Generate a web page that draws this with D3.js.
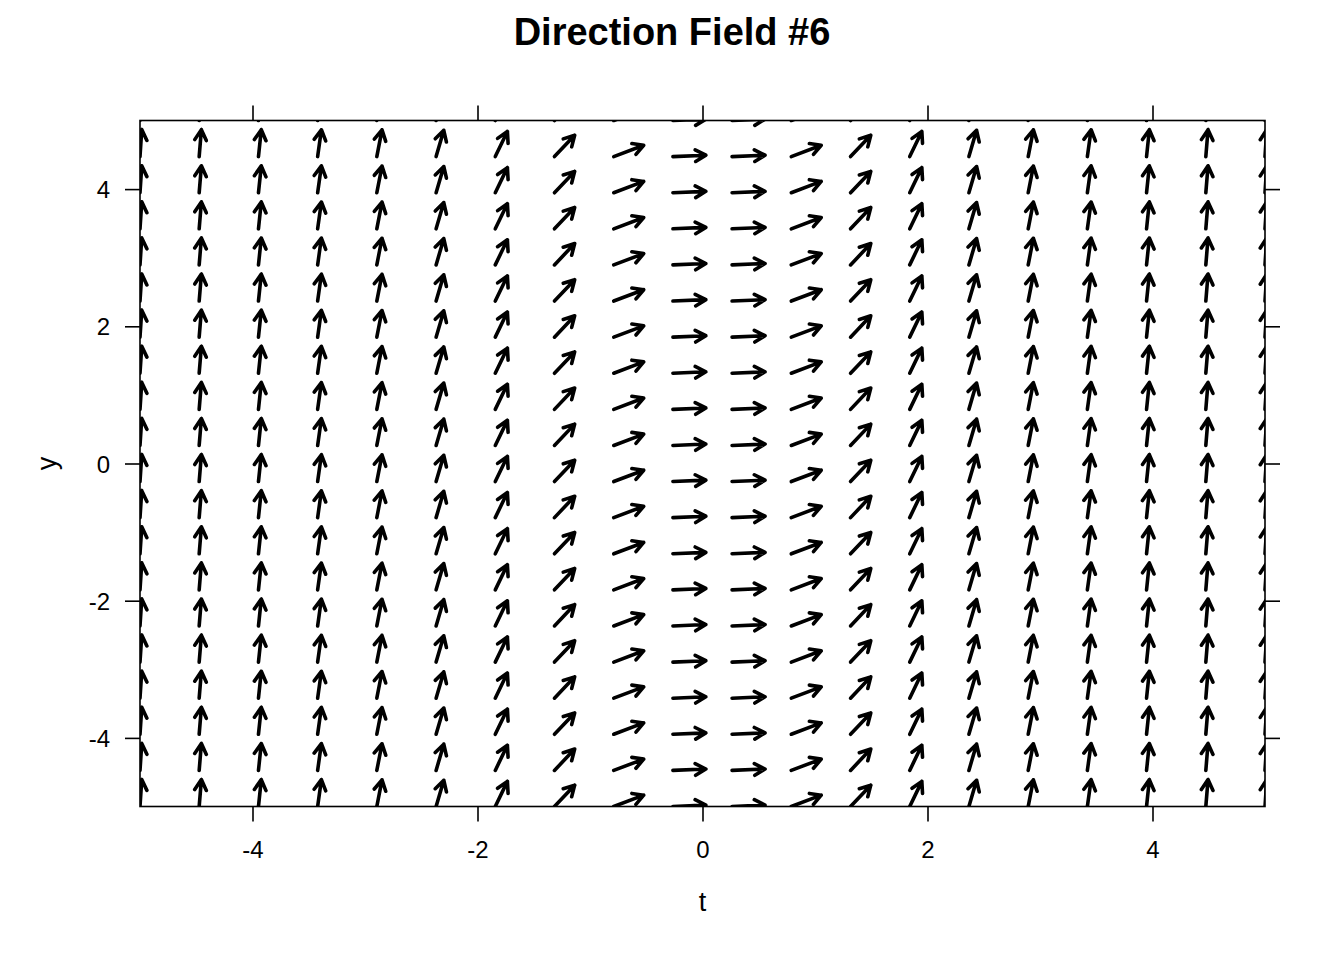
<!DOCTYPE html>
<html>
<head>
<meta charset="utf-8">
<script src="https://cdn.jsdelivr.net/npm/d3@7"></script>
<style>
  html, body { margin: 0; padding: 0; background: #fff; }
  svg { display: block; }
  text { font-family: "Liberation Sans", Arial, sans-serif; fill: #000; }
</style>
</head>
<body>
<svg id="chart" width="1344" height="960"></svg>
<script>
// ---- data ----
const title = "Direction Field #6";
const xLabel = "t";
const yLabel = "y";
const xDomain = [-5, 5];
const yDomain = [-5, 5];
const xTicks = [-4, -2, 0, 2, 4];
const yTicks = [-4, -2, 0, 2, 4];
// grid of arrow tails (t values of columns, y values of rows)
const tGrid = [-5, -4.474, -3.947, -3.421, -2.895, -2.368, -1.842, -1.316, -0.789, -0.263,
               0.263, 0.789, 1.316, 1.842, 2.368, 2.895, 3.421, 3.947, 4.474, 5];
const yGrid = [-5, -4.474, -3.947, -3.421, -2.895, -2.368, -1.842, -1.316, -0.789, -0.263,
               0.263, 0.789, 1.316, 1.842, 2.368, 2.895, 3.421, 3.947, 4.474, 5];
// slope dy/dt read for each column (same for every row)
const slopes = [25, 20.0, 15.6, 11.7, 8.4, 5.6, 3.4, 1.73, 0.62, 0.07,
                0.07, 0.62, 1.73, 3.4, 5.6, 8.4, 11.7, 15.6, 20.0, 25];

// ---- layout ----
const svg = d3.select("#chart");
const pLeft = 140, pRight = 1265, pTop = 120.5, pBottom = 806.5;
const x = d3.scaleLinear().domain(xDomain).range([pLeft, pRight]);
const y = d3.scaleLinear().domain(yDomain).range([pBottom, pTop]);
const pxRatio = (pBottom - pTop) / (pRight - pLeft); // y px per unit / x px per unit

const A = 33, B = 27;          // arrow length (px) horizontally / vertically
const headLen = 12, headAng = Math.PI / 6.2;

svg.append("defs").append("clipPath").attr("id", "clip")
  .append("rect").attr("x", pLeft).attr("y", pTop)
  .attr("width", pRight - pLeft).attr("height", pBottom - pTop);

const cells = [];
tGrid.forEach((t, i) => {
  yGrid.forEach(yy => cells.push({ t, y: yy, s: slopes[i] }));
});

const g = svg.append("g").attr("clip-path", "url(#clip)");
g.selectAll("path.arrow").data(cells).join("path")
  .attr("class", "arrow")
  .attr("fill", "none")
  .attr("stroke", "#000")
  .attr("stroke-width", 3.6)
  .attr("stroke-linecap", "round")
  .attr("stroke-linejoin", "round")
  .attr("d", d => {
    const x0 = x(d.t), y0 = y(d.y);
    const th = Math.atan(d.s * pxRatio);
    const c = Math.cos(th), sn = Math.sin(th);
    const r = A * B / Math.sqrt((B * c) ** 2 + (A * sn) ** 2);
    const x1 = x0 + r * c, y1 = y0 - r * sn;
    const ang = Math.atan2(y1 - y0, x1 - x0);
    const hx1 = x1 - headLen * Math.cos(ang - headAng), hy1 = y1 - headLen * Math.sin(ang - headAng);
    const hx2 = x1 - headLen * Math.cos(ang + headAng), hy2 = y1 - headLen * Math.sin(ang + headAng);
    return `M${x0},${y0}L${x1},${y1}M${hx1},${hy1}L${x1},${y1}L${hx2},${hy2}`;
  });

// ---- frame & axes ----
svg.append("rect").attr("x", pLeft).attr("y", pTop)
  .attr("width", pRight - pLeft).attr("height", pBottom - pTop)
  .attr("fill", "none").attr("stroke", "#000").attr("stroke-width", 1.6);

const tick = 15;
function styleAxis(sel) {
  sel.attr("font-size", null).attr("font-family", null);
  sel.select(".domain").remove();
  sel.selectAll(".tick line").attr("stroke", "#000").attr("stroke-width", 1.6);
  sel.selectAll("text").attr("font-size", 24).attr("fill", "#000")
     .style("font-size", "24px");
}
const axB = svg.append("g").attr("transform", `translate(0,${pBottom})`)
  .call(d3.axisBottom(x).tickValues(xTicks).tickSize(tick).tickSizeOuter(0).tickFormat(d3.format("d")));
styleAxis(axB);
axB.selectAll("text").attr("y", 51).attr("dy", 0);
const axT = svg.append("g").attr("transform", `translate(0,${pTop})`)
  .call(d3.axisTop(x).tickValues(xTicks).tickSize(tick).tickSizeOuter(0).tickFormat(""));
styleAxis(axT);
const axL = svg.append("g").attr("transform", `translate(${pLeft},0)`)
  .call(d3.axisLeft(y).tickValues(yTicks).tickSize(tick).tickSizeOuter(0).tickFormat(d3.format("d")));
styleAxis(axL);
axL.selectAll("text").attr("x", -30).attr("dy", "0.36em");
const axR = svg.append("g").attr("transform", `translate(${pRight},0)`)
  .call(d3.axisRight(y).tickValues(yTicks).tickSize(tick).tickSizeOuter(0).tickFormat(""));
styleAxis(axR);

// minus sign as hyphen like the reference
svg.selectAll(".tick text").text(function() { return d3.select(this).text().replace("\u2212", "-"); });

// ---- titles ----
svg.append("text").attr("x", 672).attr("y", 45).attr("text-anchor", "middle")
  .style("font-size", "38px").style("font-weight", "bold").text(title);
svg.append("text").attr("x", (pLeft + pRight) / 2).attr("y", 911).attr("text-anchor", "middle")
  .style("font-size", "27px").text(xLabel);
svg.append("text").attr("transform", `translate(56,${(pTop + pBottom) / 2}) rotate(-90)`)
  .attr("text-anchor", "middle").style("font-size", "27px").text(yLabel);
</script>
</body>
</html>
